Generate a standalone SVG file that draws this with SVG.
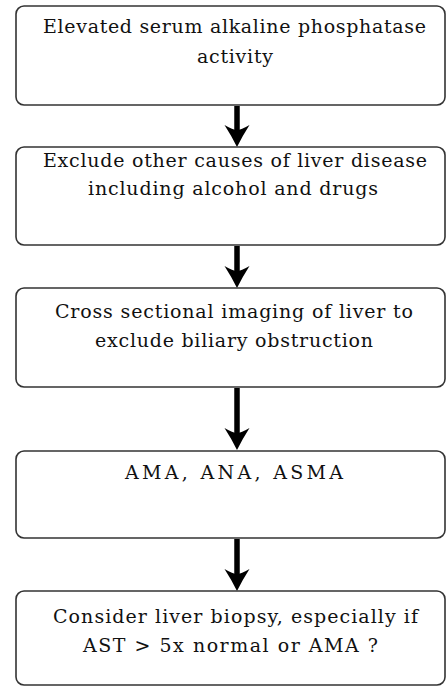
<svg xmlns="http://www.w3.org/2000/svg" width="446" height="687" viewBox="0 0 446 687">
<style>
.box{fill:#fff;stroke:#333;stroke-width:1.6}
.c{stroke:#000;stroke-width:5.5;fill:none}
.t{font-family:"DejaVu Serif","Liberation Serif",serif;font-size:19px;fill:#111;text-anchor:middle}
</style>
<defs>
<marker id="ah" markerUnits="userSpaceOnUse" viewBox="0 -13 26 26" markerWidth="26" markerHeight="26" refX="12" refY="0" orient="auto" overflow="visible">
<path d="M0,-12.5 Q10,-6 22,0 Q10,6 0,12.5 Q5,4 5,0 Q5,-4 0,-12.5 Z" fill="#000"/>
</marker>
</defs>
<rect width="446" height="687" fill="#fff"/>
<g id="connectors">
<line class="c" x1="237" y1="106" x2="237" y2="137" marker-end="url(#ah)"/>
<line class="c" x1="237" y1="246" x2="237" y2="278" marker-end="url(#ah)"/>
<line class="c" x1="237" y1="388" x2="237" y2="440" marker-end="url(#ah)"/>
<line class="c" x1="237" y1="539" x2="237" y2="581" marker-end="url(#ah)"/>
</g>
<g id="n1">
<rect class="box" x="16" y="6" width="429" height="99" rx="8"/>
<text class="t" x="234.5" y="33" textLength="383" lengthAdjust="spacing">Elevated serum alkaline phosphatase</text>
<text class="t" x="235" y="63" textLength="76" lengthAdjust="spacing">activity</text>
</g>
<g id="n2">
<rect class="box" x="16" y="147" width="429" height="98" rx="8"/>
<text class="t" x="235" y="167" textLength="384" lengthAdjust="spacing">Exclude other causes of liver disease</text>
<text class="t" x="233" y="195" textLength="290" lengthAdjust="spacing">including alcohol and drugs</text>
</g>
<g id="n3">
<rect class="box" x="16" y="288" width="429" height="99" rx="8"/>
<text class="t" x="234" y="318" textLength="358" lengthAdjust="spacing">Cross sectional imaging of liver to</text>
<text class="t" x="234" y="347" textLength="278" lengthAdjust="spacing">exclude biliary obstruction</text>
</g>
<g id="n4">
<rect class="box" x="16" y="451" width="429" height="87" rx="8"/>
<text class="t" x="234" y="479" textLength="218" lengthAdjust="spacing">AMA, ANA, ASMA</text>
</g>
<g id="n5">
<rect class="box" x="16" y="591" width="429" height="94" rx="8"/>
<text class="t" x="235.5" y="623" textLength="365" lengthAdjust="spacing">Consider liver biopsy, especially if</text>
<text class="t" x="230.5" y="652" textLength="295" lengthAdjust="spacing">AST &gt; 5x normal or AMA ?</text>
</g>
</svg>
